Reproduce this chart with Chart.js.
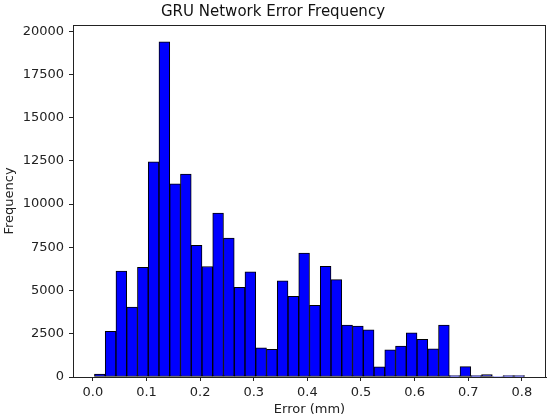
<!DOCTYPE html>
<html>
<head>
<meta charset="utf-8">
<script src="https://cdn.jsdelivr.net/npm/chart.js@4.4.0/dist/chart.umd.min.js"></script>
<style>
  body { margin: 0; background: #fff; }
  #wrap { width: 550px; height: 420px; }
</style>
</head>
<body>
<div id="wrap"><canvas id="hist" width="550" height="420"></canvas></div>
<script>
// histogram bins (error in mm)
var binStart = 0.003;
var binWidth = 0.02005;
var counts = [170, 2640, 6120, 4040, 6350, 12450, 19390, 11180, 11740, 7620,
              6390, 9480, 8040, 5190, 6080, 1680, 1600, 5560, 4660, 7170,
              4150, 6400, 5630, 3000, 2940, 2730, 590, 1570, 1790, 2560,
              2180, 1630, 3000, 80, 600, 80, 140, 30, 80, 80];
var xTicks = [0.0, 0.1, 0.2, 0.3, 0.4, 0.5, 0.6, 0.7, 0.8];
var yTicks = [0, 2500, 5000, 7500, 10000, 12500, 15000, 17500, 20000];

var points = counts.map(function (c, i) {
  return { x: binStart + (i + 0.5) * binWidth, y: c };
});

var font = "'DejaVu Sans', sans-serif";

// matplotlib style box round the plot
var framePlugin = {
  id: 'frame',
  afterDraw: function (chart) {
    var a = chart.chartArea;
    var c = chart.ctx;
    c.save();
    c.strokeStyle = '#222';
    c.lineWidth = 1;
    c.strokeRect(Math.round(a.left) + 0.5, Math.round(a.top) + 0.5,
                 Math.round(a.right - a.left) - 1, Math.round(a.bottom - a.top));
    c.restore();
  }
};

var ctx = document.getElementById("hist").getContext("2d");

new Chart(ctx, {
  type: "bar",
  data: {
    datasets: [{
      label: "Error",
      data: points,
      backgroundColor: "#0000ff",
      borderColor: "#000000",
      borderWidth: 1,
      borderSkipped: false,
      barPercentage: 1,
      categoryPercentage: 1
    }]
  },
  options: {
    responsive: false,
    animation: false,
    devicePixelRatio: 1,
    layout: { padding: { left: 0, right: 4, top: 0, bottom: 0 } },
    plugins: {
      legend: { display: false },
      tooltip: { enabled: false },
      title: {
        display: true,
        text: "GRU Network Error Frequency",
        color: "#111",
        font: { family: font, size: 15, weight: 'normal' },
        padding: { top: 3, bottom: 4 }
      }
    },
    scales: {
      x: {
        type: 'linear',
        min: -0.037,
        max: 0.845,
        offset: false,
        grid: {
          offset: false,
          drawOnChartArea: false,
          drawTicks: true,
          tickLength: 4,
          color: '#222'
        },
        border: { display: true, color: '#222', width: 1 },
        afterBuildTicks: function (axis) {
          axis.ticks = xTicks.map(function (v) { return { value: v }; });
        },
        afterFit: function (axis) { axis.height = 43; },
        ticks: {
          color: '#222',
          padding: 4,
          maxRotation: 0,
          font: { family: font, size: 13 },
          callback: function (v) { return v.toFixed(1); }
        },
        title: {
          display: true,
          text: "Error (mm)",
          color: '#222',
          font: { family: font, size: 13 },
          padding: { top: 2, bottom: 3 }
        }
      },
      y: {
        min: 0,
        max: 20360,
        grid: {
          drawOnChartArea: false,
          drawTicks: true,
          tickLength: 4,
          color: '#222'
        },
        border: { display: true, color: '#222', width: 1 },
        afterBuildTicks: function (axis) {
          axis.ticks = yTicks.map(function (v) { return { value: v }; });
        },
        afterFit: function (axis) { axis.width = 73; },
        ticks: {
          color: '#222',
          padding: 5,
          font: { family: font, size: 13 },
          callback: function (v) { return String(v); }
        },
        title: {
          display: true,
          text: "Frequency",
          color: '#222',
          font: { family: font, size: 13 },
          padding: { top: 2, bottom: 2 }
        }
      }
    }
  },
  plugins: [framePlugin]
});
</script>
</body>
</html>
